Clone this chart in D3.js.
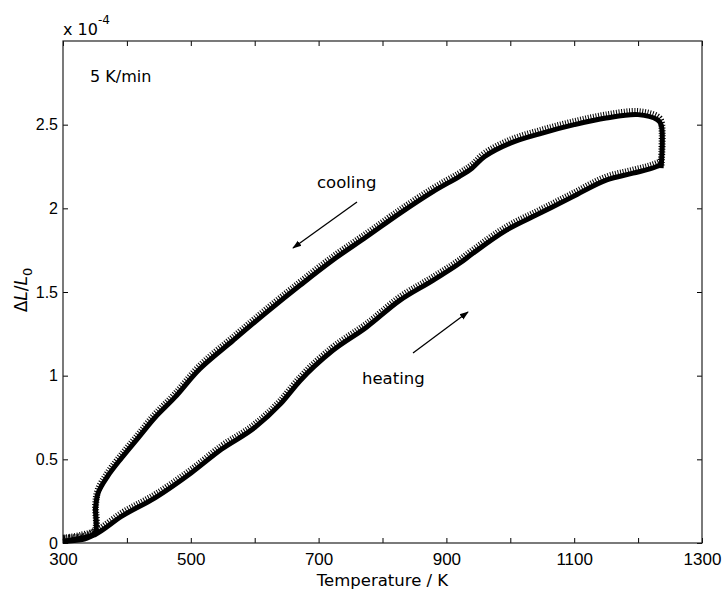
<!DOCTYPE html>
<html>
<head>
<meta charset="utf-8">
<script src="https://cdn.jsdelivr.net/npm/d3@7"></script>
<style>
  body { margin: 0; background: #fff; }
  svg { font-family: "DejaVu Sans", "Liberation Sans", Arial, sans-serif; }
  .tick text { fill: #000; }
  .tick line { stroke: #000; }
</style>
</head>
<body>
<svg id="chart" width="726" height="592"></svg>
<script>
// dL/L0 values are in units of 1e-4 (axis exponent shown top-left)
const heatingT  = [300, 330, 350, 392, 444, 501, 548, 600, 640, 671, 722, 775, 827, 879, 920, 941, 994, 1046, 1098, 1151, 1192, 1229, 1235];
const heatingDL = [0.01, 0.02, 0.05, 0.16, 0.27, 0.42, 0.56, 0.69, 0.83, 0.97, 1.15, 1.29, 1.45, 1.57, 1.67, 1.73, 1.87, 1.97, 2.07, 2.17, 2.21, 2.25, 2.26];

const coolingT  = [1236, 1236, 1230, 1200, 1150, 1100, 1050, 1000, 960, 940, 920, 879, 827, 775, 722, 671, 619, 566, 514, 475, 444, 418, 392, 370, 355, 351, 350, 330, 300];
const coolingDL = [2.24, 2.50, 2.53, 2.56, 2.54, 2.50, 2.45, 2.39, 2.31, 2.24, 2.19, 2.10, 1.97, 1.83, 1.69, 1.54, 1.38, 1.21, 1.04, 0.87, 0.75, 0.63, 0.51, 0.40, 0.30, 0.21, 0.06, 0.03, 0.01];

const xTicks = [300, 400, 500, 600, 700, 800, 900, 1000, 1100, 1200, 1300];
const yTicks = [0, 0.5, 1, 1.5, 2, 2.5];

const svg = d3.select("#chart");
const margin = { left: 63, right: 24, top: 41, bottom: 49 };
const W = 726, H = 592;

const x = d3.scaleLinear().domain([300, 1300]).range([margin.left, W - margin.right]);
const y = d3.scaleLinear().domain([0, 3]).range([H - margin.bottom, margin.top]);

// axes, ticks pointing inward on all four sides
svg.append("g")
  .attr("transform", `translate(0,${y(0)})`)
  .call(d3.axisBottom(x).tickValues(xTicks).tickSize(-5).tickPadding(10)
    .tickFormat(d => d % 200 === 100 ? d : ""))
  .call(g => g.select(".domain").remove())
  .call(g => g.selectAll("text").attr("font-size", 17).attr("font-family", null));

svg.append("g")
  .attr("transform", `translate(0,${y(3)})`)
  .call(d3.axisTop(x).tickValues(xTicks).tickSize(-5).tickFormat(""))
  .call(g => g.select(".domain").remove());

svg.append("g")
  .attr("transform", `translate(${x(300)},0)`)
  .call(d3.axisLeft(y).tickValues(yTicks).tickSize(-5).tickPadding(5).tickFormat(d => String(d)))
  .call(g => g.select(".domain").remove())
  .call(g => g.selectAll("text").attr("font-size", 16).attr("font-family", null));

svg.append("g")
  .attr("transform", `translate(${x(1300)},0)`)
  .call(d3.axisRight(y).tickValues(yTicks).tickSize(-5).tickFormat(""))
  .call(g => g.select(".domain").remove());

svg.append("rect")
  .attr("x", x(300)).attr("y", y(3))
  .attr("width", x(1300) - x(300)).attr("height", y(0) - y(3))
  .attr("fill", "none").attr("stroke", "#222").attr("stroke-width", 1.2);

// curves
const heating = heatingT.map((t, i) => [t, heatingDL[i]]);
const cooling = coolingT.map((t, i) => [t, coolingDL[i]]);
const line = d3.line().x(d => x(d[0])).y(d => y(d[1]));
const hPath = line.curve(d3.curveMonotoneX)(heating);
const cPath = line.curve(d3.curveCatmullRom.alpha(0.5))(cooling);

const curves = svg.append("g");
[hPath, cPath].forEach(path => {
  // speckled halo of the noisy measurement band
  curves.append("path")
    .attr("d", path)
    .attr("transform", "translate(0,-3)")
    .attr("fill", "none")
    .attr("stroke", "#000")
    .attr("stroke-width", 7)
    .attr("stroke-dasharray", "1 1.6");
  curves.append("path")
    .attr("d", path)
    .attr("fill", "none")
    .attr("stroke", "#000")
    .attr("stroke-width", 5)
    .attr("stroke-linejoin", "round");
});

// arrow marker
svg.append("defs").append("marker")
  .attr("id", "arr")
  .attr("viewBox", "0 0 10 10")
  .attr("refX", 9).attr("refY", 5)
  .attr("markerWidth", 7).attr("markerHeight", 7)
  .attr("orient", "auto")
  .append("path").attr("d", "M0,1.5 L10,5 L0,8.5 Z").attr("fill", "#000");

svg.append("line")
  .attr("x1", 357).attr("y1", 202).attr("x2", 293).attr("y2", 248)
  .attr("stroke", "#000").attr("stroke-width", 1.3).attr("marker-end", "url(#arr)");
svg.append("line")
  .attr("x1", 413).attr("y1", 353).attr("x2", 468).attr("y2", 312)
  .attr("stroke", "#000").attr("stroke-width", 1.3).attr("marker-end", "url(#arr)");

svg.append("text").attr("x", 317).attr("y", 188).attr("font-size", 16.5).text("cooling");
svg.append("text").attr("x", 362).attr("y", 384).attr("font-size", 16.5).text("heating");
svg.append("text").attr("x", 90).attr("y", 82).attr("font-size", 16).text("5 K/min");

// exponent label
const ex = svg.append("text").attr("x", 63).attr("y", 35).attr("font-size", 16);
ex.append("tspan").text("x 10");
ex.append("tspan").attr("dy", -11).attr("font-size", 12).text("-4");

// axis titles
svg.append("text")
  .attr("x", (x(300) + x(1300)) / 2).attr("y", 586)
  .attr("text-anchor", "middle").attr("font-size", 16.5)
  .text("Temperature / K");

const yl = svg.append("text")
  .attr("transform", "translate(27,290) rotate(-90)")
  .attr("text-anchor", "middle").attr("font-size", 17);
yl.append("tspan").text("\u0394");
yl.append("tspan").attr("font-style", "italic").text("L");
yl.append("tspan").text("/");
yl.append("tspan").attr("font-style", "italic").text("L");
yl.append("tspan").attr("dy", 5).attr("font-size", 13).text("0");
</script>
</body>
</html>
